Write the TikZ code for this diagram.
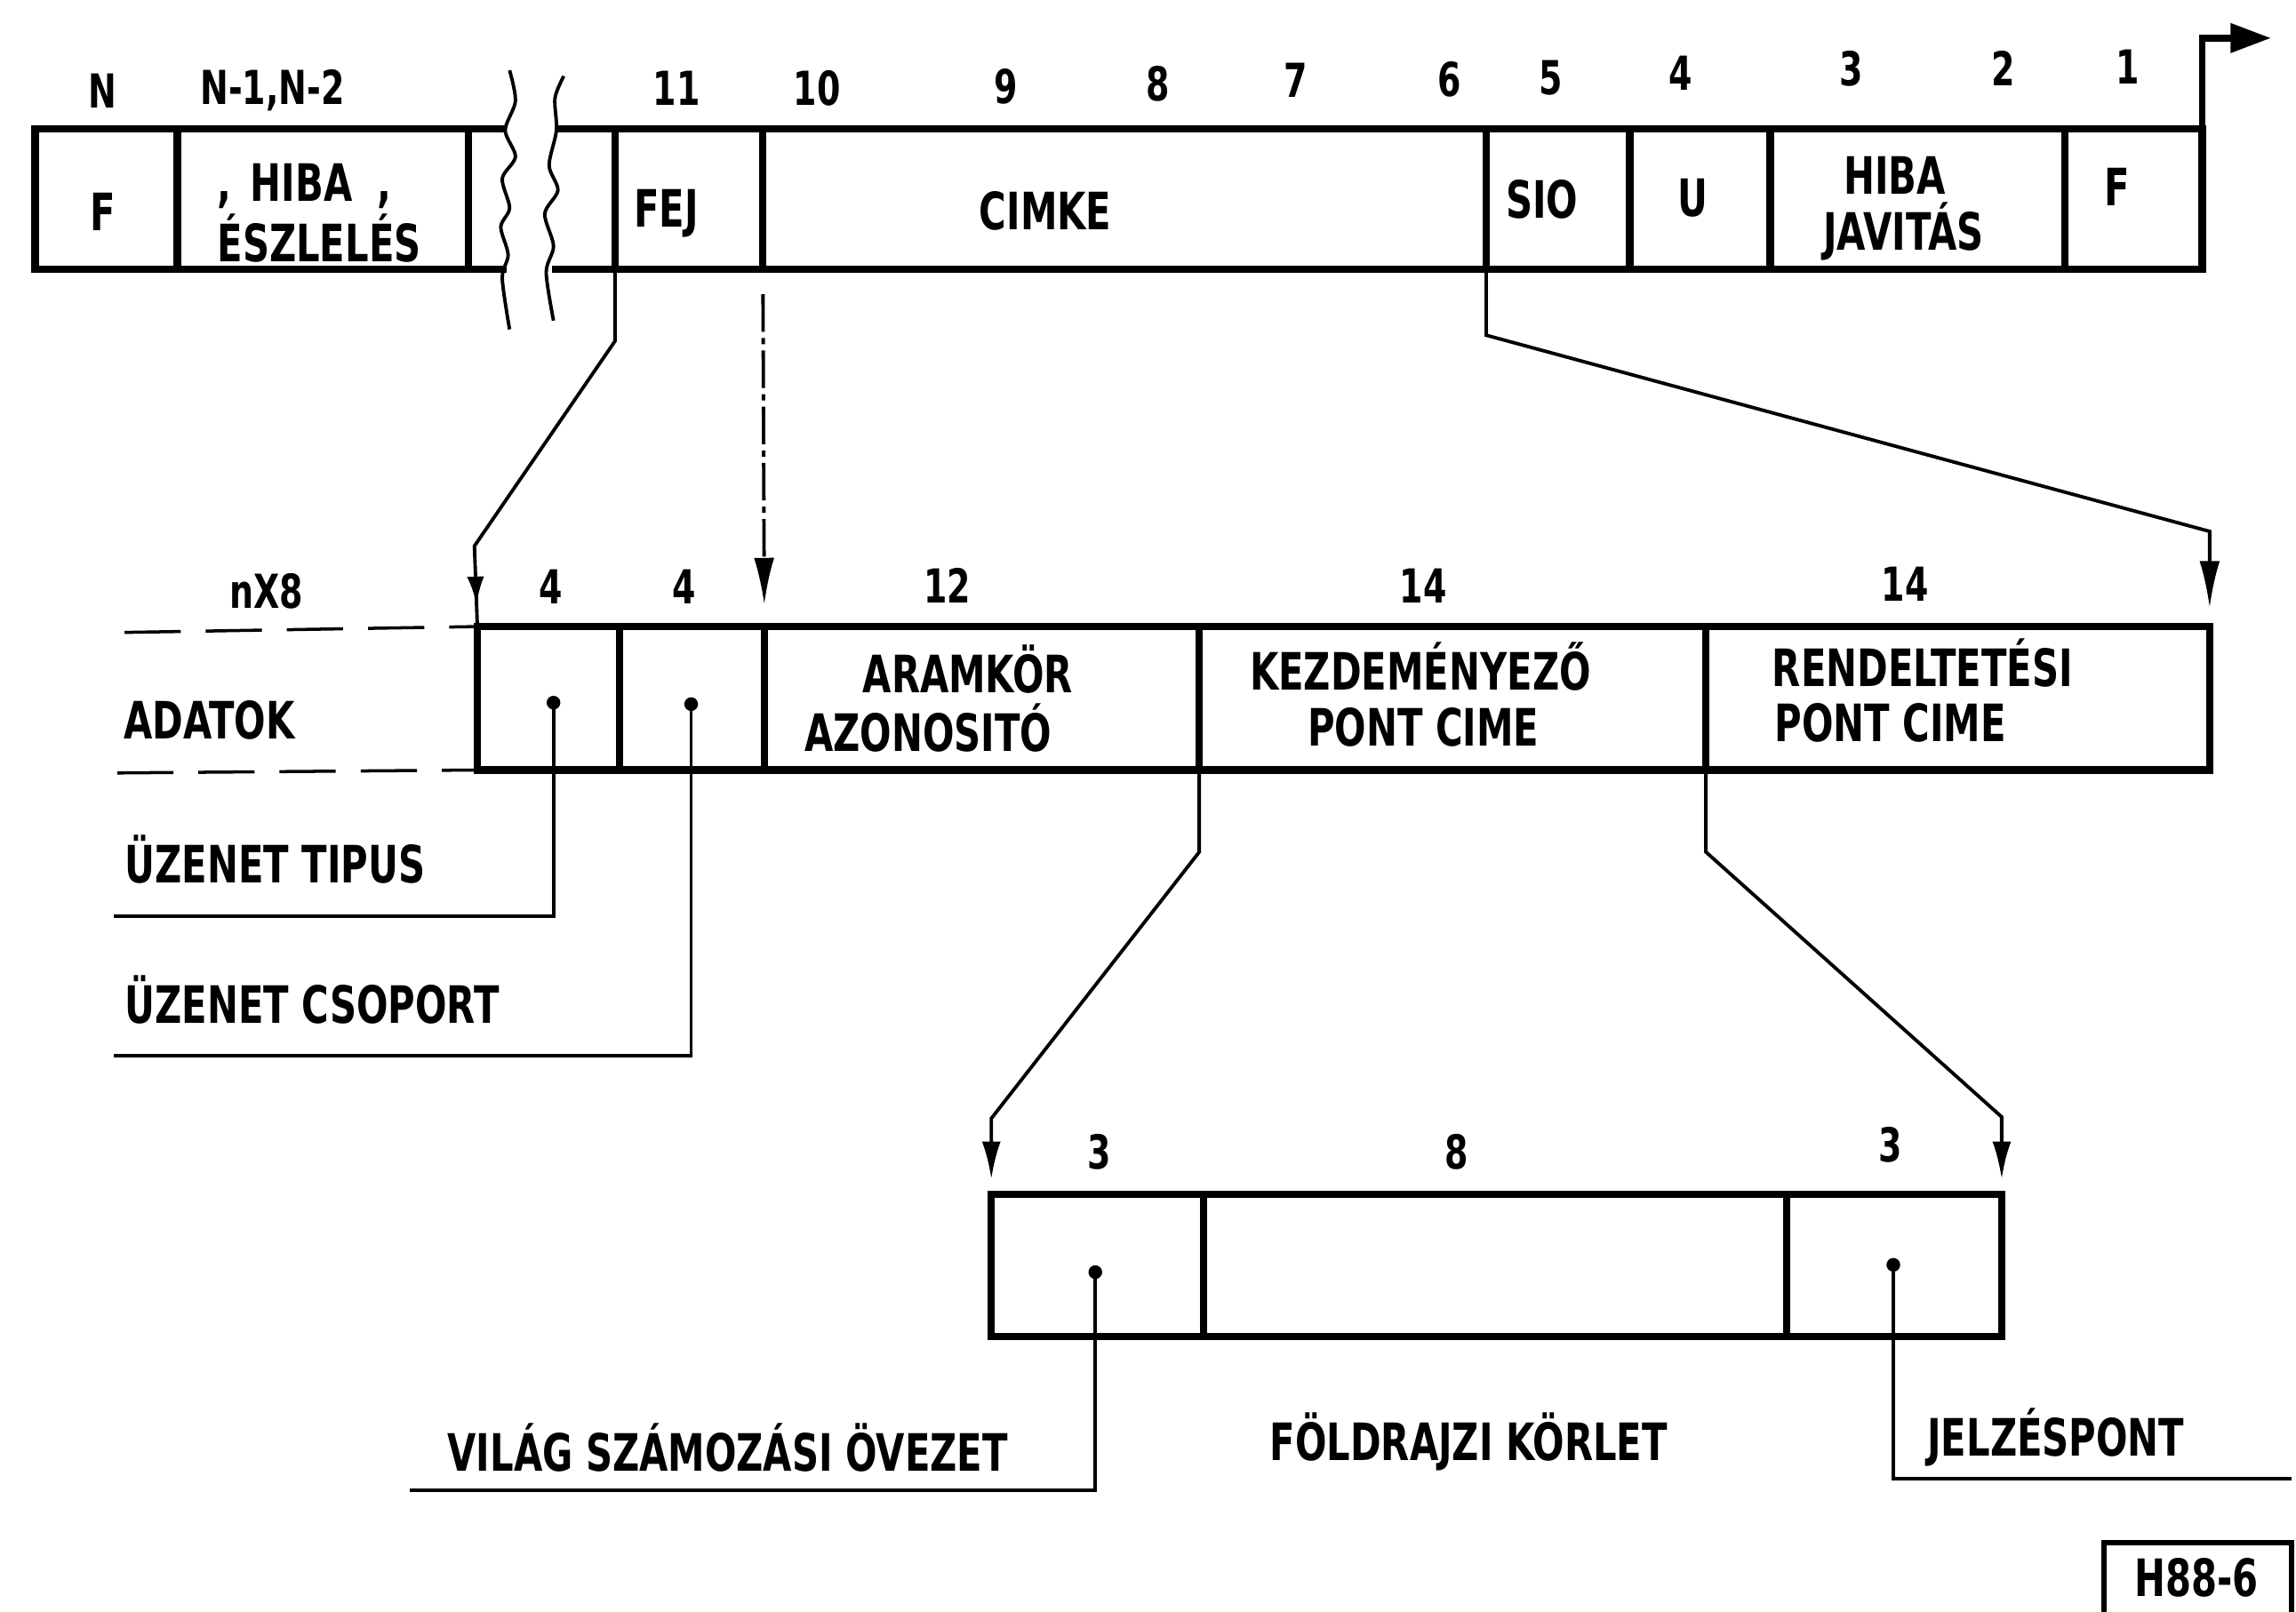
\documentclass[tikz,border=0pt]{standalone}
\usepackage{fontspec}
\newfontfamily\lbl{DejaVu Sans}[FakeStretch=0.72]
\usetikzlibrary{fit,arrows.meta,decorations.markings}
\begin{document}
\begin{tikzpicture}[x=0.016474cm, y=-0.016474cm,
  cell/.style={draw, line width=2.4pt, inner sep=0pt, outer sep=0pt},
  barline/.style={line width=2.4pt},
  lab/.style={font=\lbl\bfseries\fontsize{16.5}{19}\selectfont, inner sep=0pt, align=center},
  num/.style={font=\lbl\bfseries\fontsize{15}{17}\selectfont, inner sep=0pt},
  conn/.style={line width=1.1pt},
  wave/.style={line width=1.1pt},
  dsh/.style={line width=1pt, dash pattern=on 18pt off 8pt},
  pin/.style={circle, fill, inner sep=0pt, minimum size=4.4pt},
  entry/.style={-{Latex[length=15pt,width=6.5pt]}},
  smalltip/.style={-{Latex[length=12pt,width=6pt]}}
]
\fill[white] (0,0) rectangle (1568,1101);
\useasboundingbox (0,0) rectangle (1568,1101);

% ---------------- top frame ----------------
\node[cell, fit={(24,88) (121,184)}] (tF1) {};
\node[cell, fit={(121,88) (320,184)}] (tHiba) {};
\node[cell, fit={(420,88) (521,184)}] (tFej) {};
\node[cell, fit={(521,88) (1015,184)}] (tCimke) {};
\node[cell, fit={(1015,88) (1113,184)}] (tSio) {};
\node[cell, fit={(1113,88) (1209,184)}] (tU) {};
\node[cell, fit={(1209,88) (1410,184)}] (tJav) {};
\node[cell, fit={(1410,88) (1504,184)}] (tF2) {};
\draw[barline] (tHiba.north east) -- (346,88);
\draw[barline] (tHiba.south east) -- (346,184);
\draw[barline] (380,88) -- (tFej.north west);
\draw[barline] (377,184) -- (tFej.south west);
% break lines
\draw[wave] plot[smooth] coordinates {(348,48) (352,69) (345,89) (352,107) (343,122) (348,142) (342,155) (347,174) (343,190) (348,225)};
\draw[wave] plot[smooth] coordinates {(385,52) (379,67) (380,89) (375,113) (381,130) (372,146) (378,168) (373,186) (378,219)};

% top numbers
\node[num] (nN) at (70,62) {N};
\node[num] (nN1) at (186,62) {N-1,N-2};
\node[num] (n11) at (462,60) {11};
\node[num] (n10) at (558,60) {10};
\node[num] (n9) at (687,59) {9};
\node[num] (n8) at (791,57) {8};
\node[num] (n7) at (885,55) {7};
\node[num] (n6) at (990,54) {6};
\node[num] (n5) at (1059,53) {5};
\node[num] (n4) at (1148,50) {4};
\node[num] (n3) at (1264,47) {3};
\node[num] (n2) at (1368,47) {2};
\node[num] (n1) at (1453,46) {1};

% top labels
\node[lab] (lF1) at (70,145) {F};
\node[lab] (lHiba1) at (208,127) {,\hspace{6pt}HIBA\hspace{8pt},};
\node[lab] (lEszl) at (218,163) {ÉSZLELÉS};
\node[lab] (lFej) at (455,146) {FEJ};
\node[lab] (lCimke) at (714,144) {CIMKE};
\node[lab] (lSio) at (1053,136) {SIO};
\node[lab] (lU) at (1156,135) {U};
\node[lab] (lHiba2) at (1294,120) {HIBA};
\node[lab] (lJav) at (1300,158) {JAVITÁS};
\node[lab] (lF2) at (1446,128) {F};

% top-right arrow
\coordinate (a1) at (1504,26);
\coordinate (a2) at (1551,26);
\draw[line width=2.2pt, -{Triangle[length=13pt,width=9pt]}] (tF2.north east) -- (a1) -- (a2);

% ---------------- middle frame ----------------
\node[cell, fit={(326,428) (423,526)}] (mA) {};
\node[cell, fit={(423,428) (522,526)}] (mB) {};
\node[cell, fit={(522,428) (819,526)}] (mC) {};
\node[cell, fit={(819,428) (1165,526)}] (mD) {};
\node[cell, fit={(1165,428) (1509,526)}] (mE) {};

\node[num] (nX8) at (182,404) {nX8};
\node[num] (m4a) at (376,401) {4};
\node[num] (m4b) at (467,401) {4};
\node[num] (m12) at (647,400) {12};
\node[num] (m14a) at (972,400) {14};
\node[num] (m14b) at (1301,399) {14};

\coordinate (dt) at (85,432);
\coordinate (db) at (80,528);
\draw[dsh] (dt) -- (mA.north west);
\draw[dsh] (db) -- (mA.south west);
\node[lab, anchor=west] (lAdat) at (84,492) {ADATOK};

\node[lab] (lAram) at (661,457) {ARAMKÖR};
\node[lab] (lAzon) at (634,497) {AZONOSITÓ};
\node[lab] (lKezd) at (970,455) {KEZDEMÉNYEZŐ};
\node[lab] (lPont1) at (972,497) {PONT CIME};
\node[lab] (lRend) at (1313,453) {RENDELTETÉSI};
\node[lab] (lPont2) at (1291,494) {PONT CIME};

% connectors top -> middle
\coordinate (b1) at (420,233);
\coordinate (b2) at (324,373);
\draw[conn, postaction={decorate}, decoration={markings, mark=at position -7pt with {\arrow{Latex[length=9pt,width=5.5pt]}}}]
  (tFej.south west) -- (b1) -- (b2) -- (mA.north west);
\draw[conn, dash pattern=on 12pt off 2pt on 2pt off 2pt, entry, shorten <=8pt, shorten >=7pt]
  (tCimke.south west) -- (mC.north west);
\coordinate (b3) at (1015,229);
\coordinate (b4) at (1509,363);
\draw[conn, entry, shorten >=6pt] (tSio.south west) -- (b3) -- (b4) -- (mE.north east);

% pointers from middle frame
\node[pin] (p1) at (378,480) {};
\node[pin] (p2) at (472,481) {};
\coordinate (e1) at (78,626);
\coordinate (e2) at (78,721);
\draw[conn] (p1.center) |- (e1);
\draw[conn] (p2.center) |- (e2);
\node[lab, anchor=west] (lTip) at (85,587) {ÜZENET TIPUS};
\node[lab, anchor=west] (lCsop) at (85,683) {ÜZENET CSOPORT};

% ---------------- bottom frame ----------------
\node[cell, fit={(677,816) (822,913)}] (bA) {};
\node[cell, fit={(822,816) (1220,913)}] (bB) {};
\node[cell, fit={(1220,816) (1367,913)}] (bC) {};

\node[num] (b3a) at (751,787) {3};
\node[num] (b8) at (995,787) {8};
\node[num] (b3b) at (1291,782) {3};

\coordinate (b5) at (819,582);
\coordinate (b6) at (677,764);
\draw[conn, smalltip, shorten >=5pt] (mD.south west) -- (b5) -- (b6) -- (bA.north west);
\coordinate (b7) at (1165,582);
\coordinate (b8c) at (1367,763);
\draw[conn, smalltip, shorten >=5pt] (mE.south west) -- (b7) -- (b8c) -- (bC.north east);

\node[pin] (p3) at (748,869) {};
\node[pin] (p4) at (1293,864) {};
\coordinate (e3) at (280,1018);
\coordinate (e4) at (1565,1010);
\draw[conn] (p3.center) |- (e3);
\draw[conn] (p4.center) |- (e4);

\node[lab] (lVil) at (497,989) {VILÁG SZÁMOZÁSI ÖVEZET};
\node[lab] (lFold) at (1003,985) {FÖLDRAJZI KÖRLET};
\node[lab] (lJelz) at (1404,982) {JELZÉSPONT};

% figure code
\node[cell, line width=1.8pt, fit={(1437,1054) (1565,1130)}] (hbox) {};
\node[lab] (hlbl) at (1500,1078) {H88-6};
\end{tikzpicture}
\end{document}
